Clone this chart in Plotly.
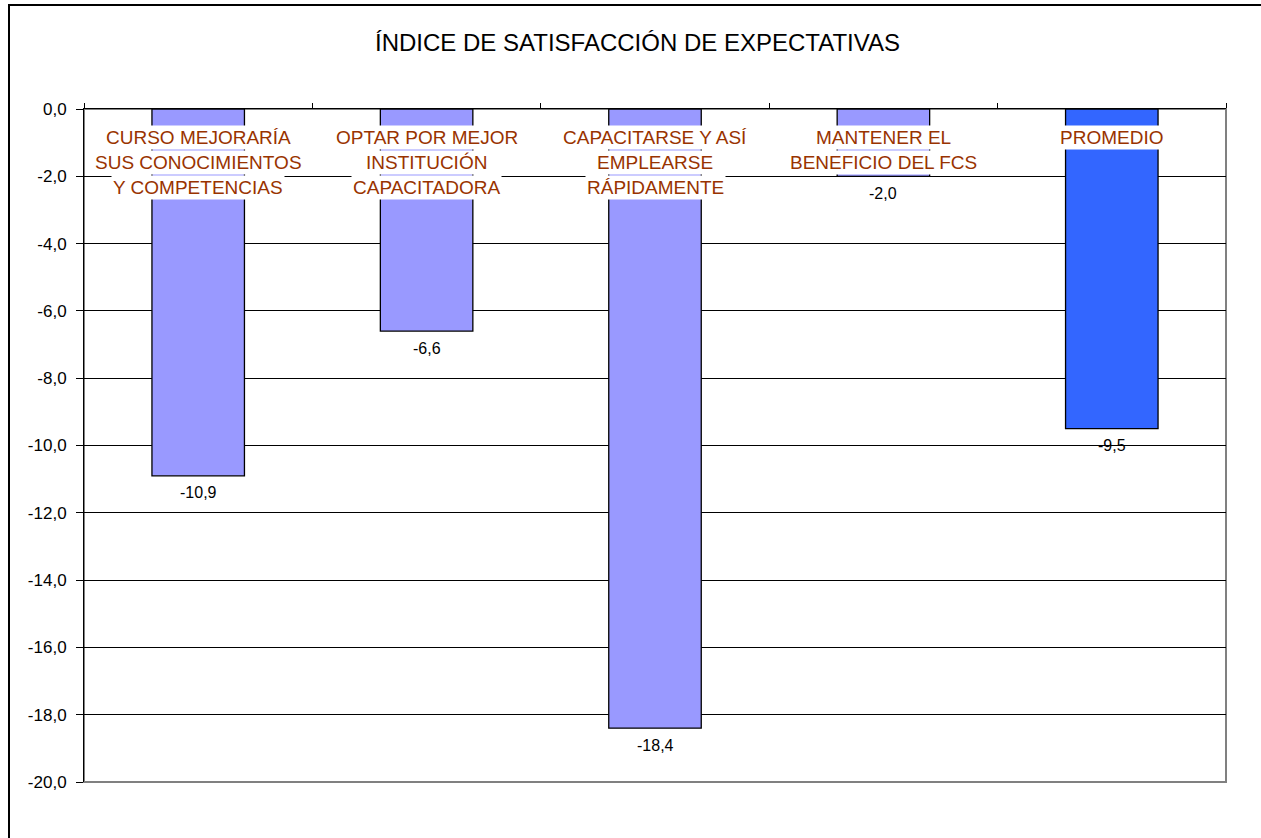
import plotly.graph_objects as go

# Chart data
categories = [
    "CURSO MEJORARÍA<br>SUS CONOCIMIENTOS<br>Y COMPETENCIAS",
    "OPTAR POR MEJOR<br>INSTITUCIÓN<br>CAPACITADORA",
    "CAPACITARSE Y ASÍ<br>EMPLEARSE<br>RÁPIDAMENTE",
    "MANTENER EL<br>BENEFICIO DEL FCS",
    "PROMEDIO",
]
values = [-10.9, -6.6, -18.4, -2.0, -9.5]
bar_colors = ["#9999FF", "#9999FF", "#9999FF", "#9999FF", "#3366FF"]
y_ticks = [0, -2, -4, -6, -8, -10, -12, -14, -16, -18, -20]


def fmt(v):
    # one decimal, comma as decimal separator, plain hyphen for negatives
    return f"{v:.1f}".replace(".", ",")


FONT = "Arial, 'Liberation Sans', sans-serif"
x_pos = list(range(len(values)))

fig = go.Figure()
fig.add_trace(go.Bar(
    x=x_pos,
    y=values,
    width=0.405,
    marker=dict(color=bar_colors, line=dict(color="black", width=1.3)),
    hoverinfo="skip",
))

annotations = []
# value labels under each bar end
for xi, v in zip(x_pos, values):
    annotations.append(dict(
        x=xi, y=v, xref="x", yref="y", text=fmt(v), showarrow=False,
        yanchor="middle", yshift=-17,
        font=dict(family=FONT, size=16, color="black"),
    ))

# category names drawn inside the plot, one white box per line
for xi, cat in zip(x_pos, categories):
    for li, line in enumerate(cat.split("<br>")):
        annotations.append(dict(
            x=xi, y=0, xref="x", yref="y", text=line, showarrow=False,
            yanchor="middle", yshift=-(28 + 25 * li),
            bgcolor="white", borderpad=1,
            font=dict(family=FONT, size=19, color="#993300"),
        ))

shapes = [
    # outer chart frame
    dict(type="rect", xref="paper", yref="paper",
         x0=(9 - 84) / 1142, x1=1.2, y0=-0.3, y1=(782 - 5) / 673,
         line=dict(color="black", width=2), fillcolor="rgba(0,0,0,0)", layer="below"),
    # plot area border
    dict(type="rect", xref="paper", yref="paper", x0=0, x1=1, y0=0, y1=1,
         line=dict(color="#808080", width=2), fillcolor="rgba(0,0,0,0)", layer="below"),
]

fig.update_layout(
    width=1261, height=838,
    margin=dict(l=84, r=35, t=109, b=56),
    paper_bgcolor="white", plot_bgcolor="white",
    showlegend=False,
    title=dict(
        text="ÍNDICE DE SATISFACCIÓN DE EXPECTATIVAS",
        x=637.5 / 1261, xref="container", xanchor="center",
        y=1 - 43 / 838, yref="container", yanchor="middle",
        font=dict(family=FONT, size=24, color="black"),
    ),
    xaxis=dict(
        range=[-0.5, 4.5], side="top",
        tickvals=[-0.5, 0.5, 1.5, 2.5, 3.5, 4.5],
        showticklabels=False, ticks="outside", ticklen=5, tickcolor="black",
        showgrid=False, zeroline=False,
        showline=True, linecolor="black", linewidth=1,
    ),
    yaxis=dict(
        range=[-20, 0],
        tickvals=y_ticks, ticktext=[fmt(t) for t in y_ticks],
        ticks="outside", ticklen=7, tickcolor="black",
        ticklabelstandoff=6,
        tickfont=dict(family=FONT, size=17, color="black"),
        showgrid=True, gridcolor="black", gridwidth=1,
        zeroline=False, showline=True, linecolor="black", linewidth=1,
    ),
    annotations=annotations,
    shapes=shapes,
)

fig.write_html("out.html")
